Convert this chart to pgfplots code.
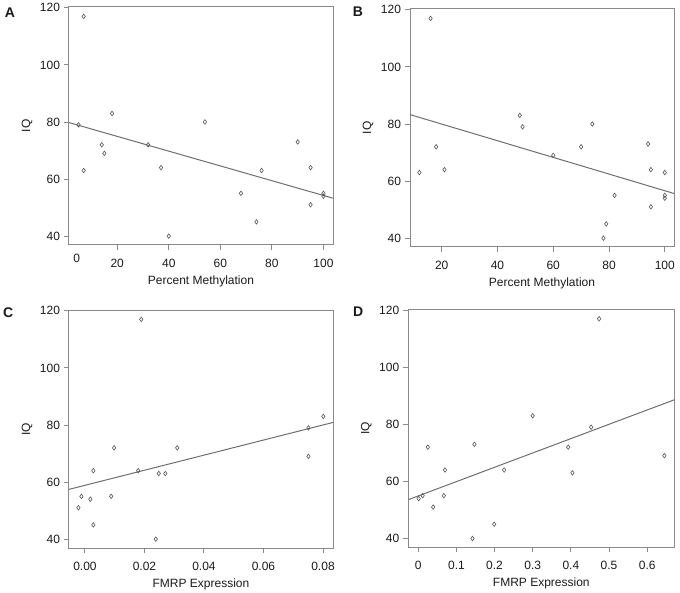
\documentclass[border=0pt]{standalone}
\usepackage{pgfplots}
\pgfplotsset{compat=1.18}
\usepackage{fontspec}
\setmainfont{Liberation Sans}
\definecolor{boxgray}{HTML}{8A8A8A}
\definecolor{linegray}{HTML}{6E6E6E}
\definecolor{markgray}{HTML}{555555}
\definecolor{txt}{HTML}{1A1A1A}
\pgfplotsset{
  panel/.style={
    scale only axis, width=198pt, height=178.5pt,
    anchor=north west,
    axis line style={draw=boxgray, line width=0.75pt},
    tick align=outside, major tick length=3.75pt,
    tick style={draw=boxgray, line width=0.75pt},
    tick pos=left,
    ymin=36.9, ymax=120.3, ytick={40,60,...,120},
    ticklabel style={font=\fontsize{9}{11}\selectfont, text=txt},
    xticklabel style={yshift=-3.2pt},
    yticklabel style={xshift=0.5pt},
    label style={font=\fontsize{9}{11}\selectfont, text=txt},
    /pgf/number format/assume math mode=true,
    scaled x ticks=false,
    ylabel={IQ},
    y label style={at={(axis description cs:0,0.5)}, anchor=center, rotate=0, yshift=31.5pt},
    x label style={at={(axis description cs:0.5,0)}, anchor=center, yshift=-27pt},
    clip=true,
  },
  pts/.style={only marks, mark=diamond, mark size=1.7pt, draw=markgray, mark options={line width=0.45pt, fill=none, draw=markgray}},
  fit/.style={no marks, draw=linegray, line width=0.75pt},
}
\begin{document}
\begin{tikzpicture}
\useasboundingbox (0,0) rectangle (510pt,-444pt);
% Panel A
\begin{axis}[panel, at={(51.75pt,-5.25pt)},
  xmin=1.3, xmax=103.7, xtick={20,40,...,100},
  extra x ticks={4.3}, extra x tick labels={0},
  extra x tick style={major tick length=0pt},
  xlabel={Percent Methylation}]
\addplot[pts] coordinates {
(5,79) (7,117) (7,63) (14,72) (15,69) (18,83) (32,72) (37,64) (40,40)
(54,80) (68,55) (74,45) (76,63) (90,73) (95,64) (95,51) (100,55) (100,54)};
\addplot[fit] coordinates {(1.3,79.8) (103.7,53.3)};
\end{axis}
% Panel B
\begin{axis}[panel, at={(307.5pt,-6.75pt)},
  xmin=8.64, xmax=103.3, xtick={20,40,...,100},
  xlabel={Percent Methylation}]
\addplot[pts] coordinates {
(12,63) (16,117) (18,72) (21,64) (48,83) (49,79) (60,69) (70,72) (74,80)
(78,40) (79,45) (82,55) (94,73) (95,64) (95,51) (100,63) (100,55) (100,54)};
\addplot[fit] coordinates {(8.64,83.3) (103.3,55.65)};
\end{axis}
% Panel C
\begin{axis}[panel, at={(51.75pt,-232.5pt)},
  xmin=-0.00537, xmax=0.08336, xtick={0,0.02,...,0.08},
  xticklabel style={/pgf/number format/.cd, fixed, fixed zerofill, precision=2},
  xlabel={FMRP Expression}]
\addplot[pts] coordinates {
(-0.0022,51) (-0.0012,55) (0.0018,54) (0.0028,64) (0.0028,45) (0.0088,55)
(0.0098,72) (0.0179,64) (0.0189,117) (0.0238,40) (0.0248,63) (0.027,63)
(0.031,72) (0.0751,79) (0.0751,69) (0.0801,83)};
\addplot[fit] coordinates {(-0.00537,57.45) (0.08336,80.9)};
\end{axis}
% Panel D
\begin{axis}[panel, at={(306.2pt,-232pt)}, width=199.5pt,
  xmin=-0.0262, xmax=0.671, xtick={0,0.1,...,0.6},
  xticklabel style={/pgf/number format/.cd, fixed, precision=1},
  xlabel={FMRP Expression}]
\addplot[pts] coordinates {
(0.001,54) (0.0115,55) (0.025,72) (0.039,51) (0.067,55) (0.07,64)
(0.142,40) (0.147,73) (0.199,45) (0.225,64) (0.30,83) (0.393,72)
(0.404,63) (0.453,79) (0.474,117) (0.645,69)};
\addplot[fit] coordinates {(-0.0262,53.6) (0.671,88.6)};
\end{axis}
\node[font=\bfseries\fontsize{10.5}{12}\selectfont, text=txt] at (7.5pt,-9.75pt) {A};
\node[font=\bfseries\fontsize{10.5}{12}\selectfont, text=txt] at (268.5pt,-9pt) {B};
\node[font=\bfseries\fontsize{10.5}{12}\selectfont, text=txt] at (6.2pt,-234.5pt) {C};
\node[font=\bfseries\fontsize{10.5}{12}\selectfont, text=txt] at (268.7pt,-234pt) {D};
\end{tikzpicture}
\end{document}
